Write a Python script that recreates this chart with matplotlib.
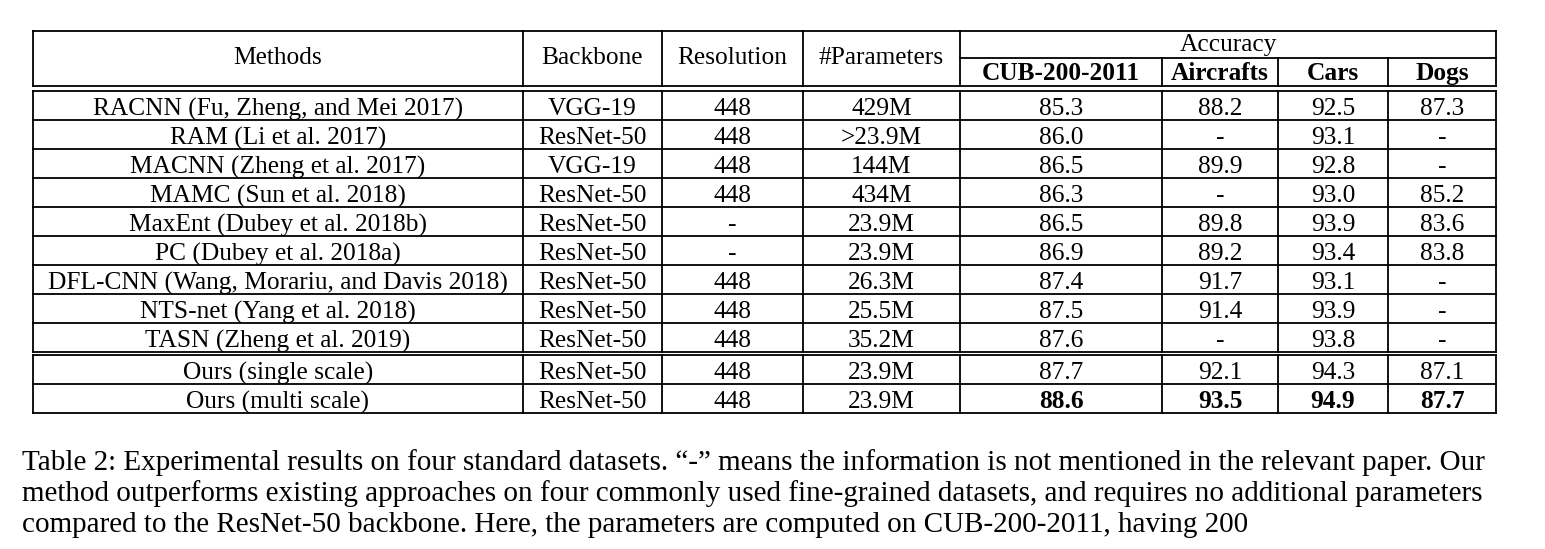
import matplotlib.pyplot as plt

methods = ["RACNN (Fu, Zheng, and Mei 2017)", "RAM (Li et al. 2017)", "MACNN (Zheng et al. 2017)",
           "MAMC (Sun et al. 2018)", "MaxEnt (Dubey et al. 2018b)", "PC (Dubey et al. 2018a)",
           "DFL-CNN (Wang, Morariu, and Davis 2018)", "NTS-net (Yang et al. 2018)", "TASN (Zheng et al. 2019)",
           "Ours (single scale)", "Ours (multi scale)"]
backbone = ["VGG-19", "ResNet-50", "VGG-19", "ResNet-50", "ResNet-50", "ResNet-50", "ResNet-50",
            "ResNet-50", "ResNet-50", "ResNet-50", "ResNet-50"]
resolution = ["448", "448", "448", "448", "-", "-", "448", "448", "448", "448", "448"]
params = ["429M", ">23.9M", "144M", "434M", "23.9M", "23.9M", "26.3M", "25.5M", "35.2M", "23.9M", "23.9M"]
cub = ["85.3", "86.0", "86.5", "86.3", "86.5", "86.9", "87.4", "87.5", "87.6", "87.7", "88.6"]
aircrafts = ["88.2", "-", "89.9", "-", "89.8", "89.2", "91.7", "91.4", "-", "92.1", "93.5"]
cars = ["92.5", "93.1", "92.8", "93.0", "93.9", "93.4", "93.1", "93.9", "93.8", "94.3", "94.9"]
dogs = ["87.3", "-", "-", "85.2", "83.6", "83.8", "-", "-", "-", "87.1", "87.7"]
datasets = ["CUB-200-2011", "Aircrafts", "Cars", "Dogs"]
caption = ["Table 2: Experimental results on four standard datasets. \u201c-\u201d means the information is not mentioned in the relevant paper. Our",
           "method outperforms existing approaches on four commonly used fine-grained datasets, and requires no additional parameters",
           "compared to the ResNet-50 backbone. Here, the parameters are computed on CUB-200-2011, having 200"]

plt.rcParams['font.family'] = ['Liberation Serif', 'DejaVu Serif']
fig = plt.figure(figsize=(15.45, 5.49), dpi=100)
ax = fig.add_axes([0, 0, 1, 1])
ax.set_xlim(0, 1545)
ax.set_ylim(549, 0)
ax.axis('off')

xs = [33, 523, 662, 803, 960, 1162, 1278, 1388, 1496]
fs = 18.3
lw = 1.3

def hl(y, x0=xs[0], x1=xs[-1]):
    ax.plot([x0, x1], [y, y], color='black', lw=lw)

def vl(x, y0, y1):
    ax.plot([x, x], [y0, y1], color='black', lw=lw)

# header
hl(31); hl(58, xs[4]); hl(86)
for x in xs:
    vl(x, 31, 86) if x in (xs[0], xs[1], xs[2], xs[3], xs[4], xs[-1]) else vl(x, 58, 86)
for i, t in enumerate(["Methods", "Backbone", "Resolution", "#Parameters"]):
    ax.text((xs[i] + xs[i + 1]) / 2, 56, t, ha='center', va='center_baseline', fontsize=fs)
ax.text((xs[4] + xs[-1]) / 2, 43, "Accuracy", ha='center', va='center_baseline', fontsize=fs)
for i, t in enumerate(datasets):
    ax.text((xs[4 + i] + xs[5 + i]) / 2, 71, t, ha='center', va='center_baseline', fontsize=fs,
            fontweight='bold')

# body
rh = 29
blocks = [(91, 0, 9), (355, 9, 11)]
for top, a, b in blocks:
    n = b - a
    for k in range(n + 1):
        hl(top + k * rh)
    for x in xs:
        vl(x, top, top + n * rh)
    for k in range(n):
        r = a + k
        y = top + k * rh + rh / 2 + 1
        cols = [methods[r], backbone[r], resolution[r], params[r], cub[r], aircrafts[r], cars[r], dogs[r]]
        for c, t in enumerate(cols):
            bold = (r == 10 and c >= 4)
            ax.text((xs[c] + xs[c + 1]) / 2, y, t, ha='center', va='center_baseline', fontsize=fs,
                    fontweight='bold' if bold else 'normal')

for i, line in enumerate(caption):
    ax.text(22, 460 + i * 31, line, ha='left', va='center_baseline', fontsize=21)

fig.savefig('out.png', dpi=100)
